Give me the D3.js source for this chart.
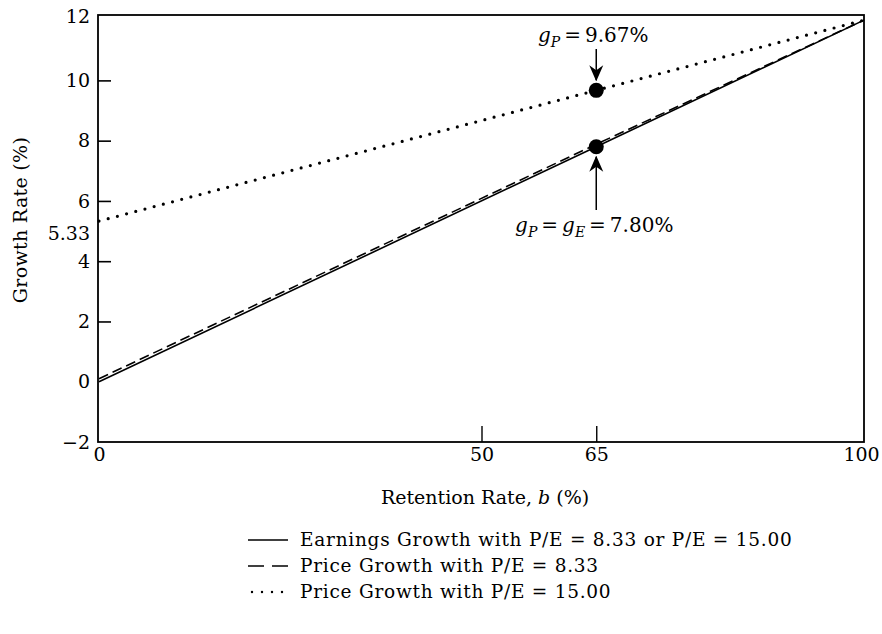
<!DOCTYPE html>
<html>
<head>
<meta charset="utf-8">
<script src="https://cdn.jsdelivr.net/npm/d3@7"></script>
<style>
  html, body { margin: 0; padding: 0; background: #fff; }
  svg text { font-family: "DejaVu Serif", "Liberation Serif", serif; fill: #000; }
</style>
</head>
<body>
<svg id="chart" width="882" height="634"></svg>
<script>
// ---- data ----
const retention = [0, 65, 100];                 // b (%)
const earningsGrowth = [0, 7.80, 12];           // solid
const priceGrowth833 = [0.1, 7.88, 12];         // dashed (drawn just above solid)
const priceGrowth15 = [5.33, 9.67, 12];         // dotted
const yTickValues = [-2, 0, 2, 4, 5.33, 6, 8, 10, 12];
const yTickMarks = [2, 4, 6, 8, 10];
const xTickValues = [0, 50, 65, 100];
const xTickMarks = [50, 65];
const highlightB = 65;
const highlights = [9.67, 7.80];
const legendLabels = [
  "Earnings Growth with P/E = 8.33 or P/E = 15.00",
  "Price Growth with P/E = 8.33",
  "Price Growth with P/E = 15.00"
];

// ---- layout ----
const svg = d3.select("#chart");
const x = d3.scaleLinear().domain([0, 100]).range([99, 864]);
const y = d3.scaleLinear().domain([-2, 12.17]).range([442, 15]);
const yTop = 12.17;

// frame
svg.append("rect")
  .attr("x", x(0) - 1).attr("y", y(yTop))
  .attr("width", x(100) - x(0) + 1).attr("height", y(-2) - y(yTop))
  .attr("fill", "none").attr("stroke", "#000").attr("stroke-width", 1.8);

// y axis
const yAxis = svg.append("g")
  .attr("transform", `translate(${x(0) - 1},0)`)
  .call(d3.axisLeft(y).tickValues(yTickValues).tickSize(-13).tickPadding(8)
    .tickFormat(d => d === 5.33 ? "5.33" : d3.format("d")(d)));
yAxis.select(".domain").remove();
yAxis.selectAll(".tick line")
  .attr("stroke", "#000").attr("stroke-width", 1.6)
  .attr("display", d => yTickMarks.includes(d) ? null : "none");
yAxis.selectAll(".tick text")
  .attr("font-size", 19).attr("font-family", "DejaVu Serif")
  .attr("dy", d => d === 5.33 ? "0.95em" : (d === 12 ? "0.15em" : "0.32em"));

// x axis
const xAxis = svg.append("g")
  .attr("transform", `translate(0,${y(-2)})`)
  .call(d3.axisBottom(x).tickValues(xTickValues).tickSize(-16).tickPadding(6)
    .tickFormat(d3.format("d")));
xAxis.select(".domain").remove();
xAxis.selectAll(".tick line")
  .attr("stroke", "#000").attr("stroke-width", 1.4)
  .attr("display", d => xTickMarks.includes(d) ? null : "none");
xAxis.selectAll(".tick text")
  .attr("font-size", 19).attr("font-family", "DejaVu Serif")
  .attr("dx", d => d === 100 ? -3 : 0);

// axis titles
svg.append("text")
  .attr("transform", `translate(27,220) rotate(-90)`)
  .attr("text-anchor", "middle").attr("font-size", 19).attr("letter-spacing", 0.3)
  .text("Growth Rate (%)");

const xt = svg.append("text")
  .attr("x", 485).attr("y", 504).attr("text-anchor", "middle").attr("font-size", 19);
xt.append("tspan").text("Retention Rate, ");
xt.append("tspan").attr("font-style", "italic").text("b");
xt.append("tspan").text(" (%)");

// lines
const series = [
  { values: earningsGrowth, dash: null, width: 1.6, cap: "butt" },
  { values: priceGrowth833, dash: "10,5", width: 1.6, cap: "butt" },
  { values: priceGrowth15, dash: "0,9.5", width: 3.2, cap: "round" }
];
const line = d3.line().x(d => x(d[0])).y(d => y(d[1]));
series.forEach(s => {
  svg.append("path")
    .datum(retention.map((b, i) => [b, s.values[i]]))
    .attr("d", line)
    .attr("fill", "none").attr("stroke", "#000")
    .attr("stroke-width", s.width)
    .attr("stroke-linecap", s.cap)
    .attr("stroke-dasharray", s.dash);
});

// highlight dots
svg.selectAll("circle.hl")
  .data(highlights)
  .join("circle")
  .attr("class", "hl")
  .attr("cx", x(highlightB)).attr("cy", d => y(d)).attr("r", 7.5)
  .attr("fill", "#000");

// arrow marker
const defs = svg.append("defs");
defs.append("marker")
  .attr("id", "arr").attr("viewBox", "0 0 16 16")
  .attr("refX", 15).attr("refY", 8)
  .attr("markerWidth", 16).attr("markerHeight", 16)
  .attr("markerUnits", "userSpaceOnUse")
  .attr("orient", "auto")
  .append("path").attr("d", "M0,1 L16,8 L0,15 L5,8 Z").attr("fill", "#000");

const xb = x(highlightB);
const eq = "\u2009=\u2009";
// upper annotation
svg.append("line")
  .attr("x1", xb).attr("y1", 49).attr("x2", xb).attr("y2", y(highlights[0]) - 10)
  .attr("stroke", "#000").attr("stroke-width", 1.5).attr("marker-end", "url(#arr)");
const t1 = svg.append("text").attr("x", xb - 3).attr("y", 42)
  .attr("text-anchor", "middle").attr("font-size", 20);
t1.append("tspan").attr("font-style", "italic").text("g");
t1.append("tspan").attr("font-style", "italic").attr("font-size", 14).attr("dy", 5).text("P");
t1.append("tspan").attr("dy", -5).text(eq + highlights[0].toFixed(2) + "%");

// lower annotation
svg.append("line")
  .attr("x1", xb).attr("y1", 210).attr("x2", xb).attr("y2", y(highlights[1]) + 10)
  .attr("stroke", "#000").attr("stroke-width", 1.5).attr("marker-end", "url(#arr)");
const t2 = svg.append("text").attr("x", xb - 2).attr("y", 232)
  .attr("text-anchor", "middle").attr("font-size", 20);
t2.append("tspan").attr("font-style", "italic").text("g");
t2.append("tspan").attr("font-style", "italic").attr("font-size", 14).attr("dy", 5).text("P");
t2.append("tspan").attr("dy", -5).text(eq);
t2.append("tspan").attr("font-style", "italic").text("g");
t2.append("tspan").attr("font-style", "italic").attr("font-size", 14).attr("dy", 5).text("E");
t2.append("tspan").attr("dy", -5).text(eq + highlights[1].toFixed(2) + "%");

// legend
const legend = svg.append("g");
legendLabels.forEach((lab, i) => {
  const ly = 546 + i * 26;
  const s = series[i];
  legend.append("line")
    .attr("x1", i === 2 ? 252 : 248).attr("x2", 288)
    .attr("y1", ly - 6).attr("y2", ly - 6)
    .attr("stroke", "#000").attr("stroke-width", i === 2 ? 2.4 : 1.5)
    .attr("stroke-linecap", s.cap)
    .attr("stroke-dasharray", i === 1 ? "16,8" : (i === 2 ? "0,10" : null));
  legend.append("text").attr("x", 300).attr("y", ly)
    .attr("font-size", 18.5).attr("letter-spacing", 0.75).text(lab);
});
</script>
</body>
</html>
